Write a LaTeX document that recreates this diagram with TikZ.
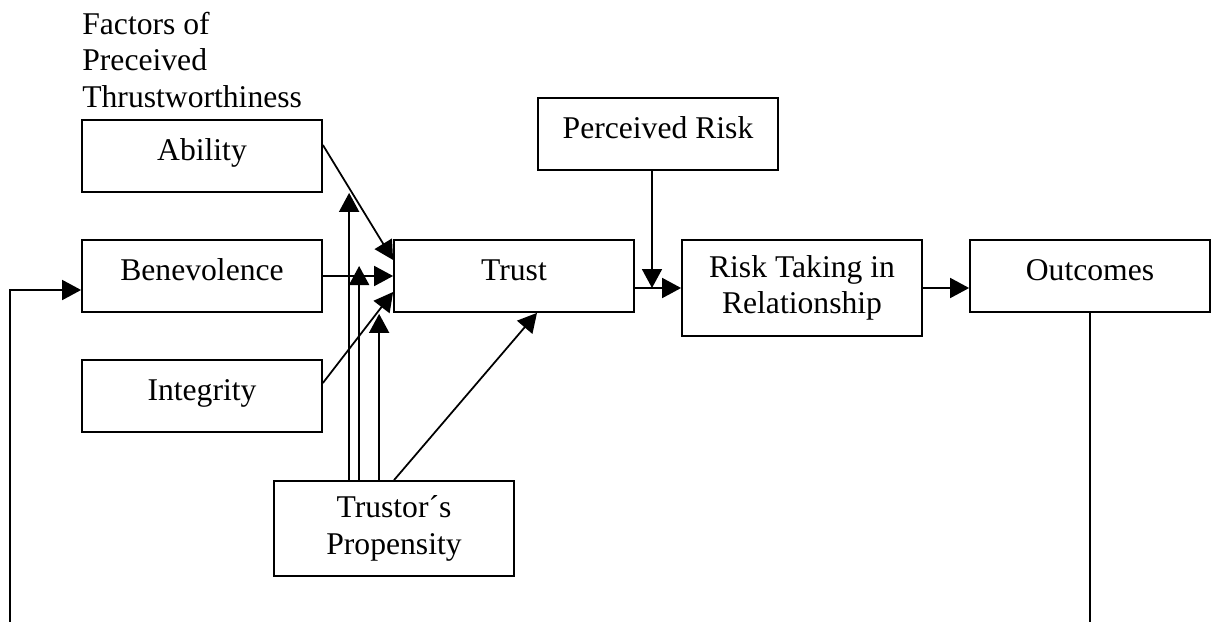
\documentclass[tikz,border=0pt]{standalone}
\usepackage{fontspec}
\setmainfont{Liberation Serif}
\usetikzlibrary{arrows.meta}

\tikzset{
	box/.style={draw,line width=1pt,minimum width=4.8cm,minimum height=1.44cm,inner sep=0pt,text height=0.45cm,text depth=0.29cm},
	twobox/.style={draw,line width=1pt,minimum width=4.8cm,inner sep=0pt,align=center},
	link/.style={line width=1pt,-{Triangle[length=0.38cm,width=0.4cm]}}
}

\begin{document}
\begin{tikzpicture}[font=\fontsize{18}{20.7}\selectfont]
	\useasboundingbox (0,0) rectangle (24.3,-12.44);
	\node[anchor=south west,inner sep=0pt,align=left] (title) at (1.64,-2.16) {Factors of\\Preceived\\Thrustworthiness};
	\node[box] (ability) at (4.04,-3.12) {Ability};
	\node[box] (benev) at (4.04,-5.52) {Benevolence};
	\node[box] (integ) at (4.04,-7.92) {Integrity};
	\node[box] (trust) at (10.28,-5.52) {Trust};
	\node[box] (prisk) at (13.16,-2.68) {Perceived Risk};
	\node[twobox,minimum height=1.92cm] (risktake) at (16.04,-5.76) {Risk Taking in\\Relationship};
	\node[box] (outcome) at (21.8,-5.52) {Outcomes};
	\node[twobox,minimum height=1.9cm] (propens) at (7.88,-10.57) {Trustor´s\\Propensity};
	\coordinate (fbR) at (21.8,-12.44);
	\coordinate (fbL) at (0.2,-12.44);
	\draw[link] ([yshift=0.22cm]ability.east) -- ([yshift=0.32cm]trust.west);
	\draw[link] (benev.east) -- (trust.west);
	\draw[link] ([yshift=0.26cm]integ.east) -- ([yshift=-0.32cm]trust.west);
	\draw[link] ([xshift=1.52cm]propens.north west) -- ([xshift=1.52cm]propens.north west |- ability.south);
	\draw[link] ([xshift=1.72cm]propens.north west) -- ([xshift=1.72cm,yshift=0.2cm]propens.north west |- trust.west);
	\draw[link] ([xshift=2.12cm]propens.north west) -- ([xshift=2.12cm,yshift=-0.02cm]propens.north west |- trust.south);
	\draw[link] (propens.north) -- ([xshift=0.46cm]trust.south);
	\draw[link] (trust.east |- risktake.west) -- (risktake.west);
	\draw[link] ([xshift=-0.12cm]prisk.south) -- ([xshift=-0.12cm]prisk.south |- risktake.west);
	\draw[link] (risktake.east) -- (risktake.east -| outcome.west);
	\draw[line width=1pt] (outcome.south) -- (fbR);
	\draw[link] (fbL) |- ([yshift=-0.28cm]benev.west);
\end{tikzpicture}
\end{document}
